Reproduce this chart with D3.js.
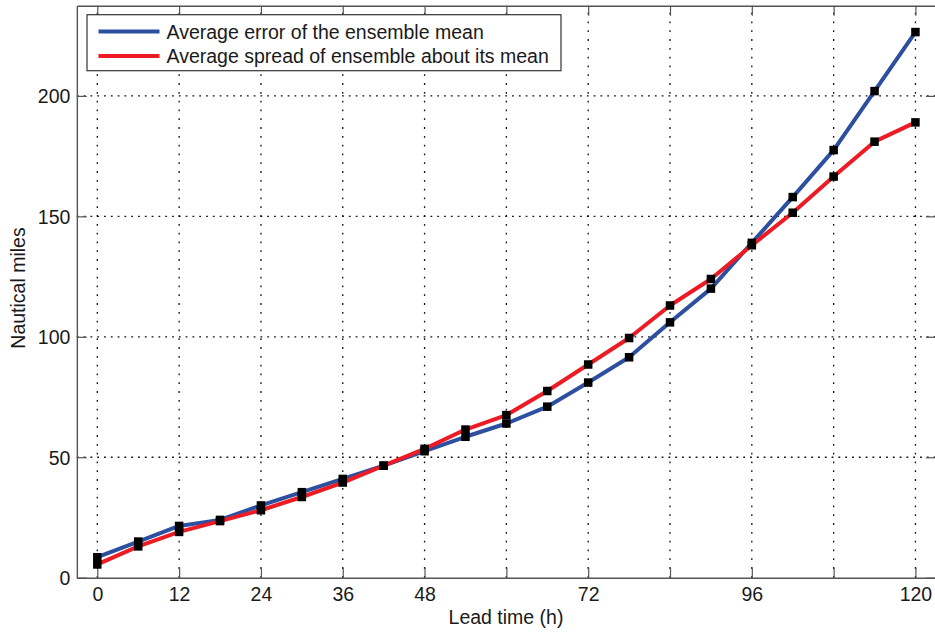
<!DOCTYPE html>
<html>
<head>
<meta charset="utf-8">
<script src="https://cdn.jsdelivr.net/npm/d3@7"></script>
<style>
  html, body { margin: 0; padding: 0; background: #fff; }
  svg { display: block; }
  text { font-family: "Liberation Sans", Arial, Helvetica, sans-serif; fill: #1a1a1a; }
</style>
</head>
<body>
<svg id="chart" width="935" height="633"></svg>
<script>
// ---- data ----
const leadTimes = [0, 6, 12, 18, 24, 30, 36, 42, 48, 54, 60, 66, 72, 78, 84, 90, 96, 102, 108, 114, 120];
const errorMean = [8.5, 15, 21.5, 24, 30, 35.5, 41, 46.5, 52.5, 58.5, 64, 71, 81, 91.5, 106, 120, 139, 158, 177.5, 202, 226.5];
const spreadMean = [5.5, 13, 19, 23.5, 28, 33.5, 39.5, 46.5, 53.5, 61.5, 67.5, 77.5, 88.5, 99.5, 113, 124, 138, 151.5, 166.5, 181, 189];
const xTickValues = [0, 12, 24, 36, 48, 60, 72, 84, 96, 108, 120];
const xTickLabels = ["0", "12", "24", "36", "48", "", "72", "", "96", "", "120"];
const yTickValues = [0, 50, 100, 150, 200];
const seriesNames = ["Average error of the ensemble mean", "Average spread of ensemble about its mean"];
const seriesColors = ["#2c4fa0", "#ed1c24"];
const xLabel = "Lead time (h)";
const yLabel = "Nautical miles";

// ---- layout ----
(function () {
const svg = d3.select("#chart");
const x = d3.scaleLinear().domain([-3, 123]).range([76.85, 935.9]);
const y = d3.scaleLinear().domain([0, 237.4]).range([577.7, 5.8]);
const pLeft = x.range()[0], pRight = x.range()[1], pBottom = y.range()[0], pTop = y.range()[1];

// grid
const grid = svg.append("g").attr("stroke", "#111").attr("stroke-width", 1.3).attr("fill", "none");
grid.selectAll("line.vx").data(xTickValues).join("line")
  .attr("x1", d => x(d)).attr("x2", d => x(d))
  .attr("y1", pBottom).attr("y2", pTop)
  .attr("stroke-dasharray", "1.8,7");
grid.selectAll("line.hy").data(yTickValues.filter(d => d > 0)).join("line")
  .attr("y1", d => y(d)).attr("y2", d => y(d))
  .attr("x1", pLeft).attr("x2", pRight)
  .attr("stroke-dasharray", "1.8,5");

// axes
function styleAxis(g) {
  g.select(".domain").attr("stroke", "#555").attr("stroke-width", 1.4);
  g.selectAll(".tick line").attr("stroke", "#555").attr("stroke-width", 1.2);
  g.selectAll(".tick text").attr("font-size", "19.5px").attr("fill", "#1a1a1a")
    .attr("font-family", '"Liberation Sans", Arial, sans-serif');
}
const xAxis = svg.append("g").attr("transform", `translate(0,${pBottom})`)
  .call(d3.axisBottom(x).tickValues(xTickValues).tickSize(-10).tickSizeOuter(0)
    .tickFormat((d, i) => xTickLabels[i]));
styleAxis(xAxis);
xAxis.selectAll(".tick text").attr("y", 23).attr("dy", null);

const xAxisTop = svg.append("g").attr("transform", `translate(0,${pTop})`)
  .call(d3.axisTop(x).tickValues(xTickValues).tickSize(-10).tickSizeOuter(0).tickFormat(""));
styleAxis(xAxisTop);

const yAxis = svg.append("g").attr("transform", `translate(${pLeft},0)`)
  .call(d3.axisLeft(y).tickValues(yTickValues).tickSize(-10).tickSizeOuter(0).tickFormat(d3.format("d")));
styleAxis(yAxis);
yAxis.selectAll(".tick text").attr("x", -6.5).attr("dy", "0.36em");

const yAxisRight = svg.append("g").attr("transform", `translate(${pRight},0)`)
  .call(d3.axisRight(y).tickValues(yTickValues).tickSize(-10).tickSizeOuter(0).tickFormat(""));
styleAxis(yAxisRight);

// axis labels
svg.append("text").attr("x", 506).attr("y", 624).attr("text-anchor", "middle")
  .attr("font-size", "19.5px").text(xLabel);
svg.append("text").attr("transform", "translate(25,288) rotate(-90)").attr("text-anchor", "middle")
  .attr("font-size", "19.5px").text(yLabel);

// lines
const line = d3.line().x((d, i) => x(leadTimes[i])).y(d => y(d));
const seriesData = [errorMean, spreadMean];
svg.append("g").selectAll("path").data(seriesData).join("path")
  .attr("d", d => line(d))
  .attr("fill", "none")
  .attr("stroke", (d, i) => seriesColors[i])
  .attr("stroke-width", 4)
  .attr("stroke-linejoin", "round");

// markers
const ms = 8.5;
seriesData.forEach(s => {
  svg.append("g").selectAll("rect").data(s).join("rect")
    .attr("x", (d, i) => x(leadTimes[i]) - ms / 2)
    .attr("y", d => y(d) - ms / 2)
    .attr("width", ms).attr("height", ms)
    .attr("fill", "#000");
});

// legend
const lg = svg.append("g");
lg.append("rect").attr("x", 87).attr("y", 14.7).attr("width", 474).attr("height", 56)
  .attr("fill", "#fff").attr("stroke", "#333").attr("stroke-width", 1.2);
seriesNames.forEach((name, i) => {
  const ly = 31.5 + i * 24.5;
  lg.append("line").attr("x1", 98.5).attr("x2", 159.5).attr("y1", ly).attr("y2", ly)
    .attr("stroke", seriesColors[i]).attr("stroke-width", 4);
  lg.append("text").attr("x", 166.5).attr("y", ly + 7).attr("font-size", "19.5px").text(name);
});
})();
</script>
</body>
</html>
